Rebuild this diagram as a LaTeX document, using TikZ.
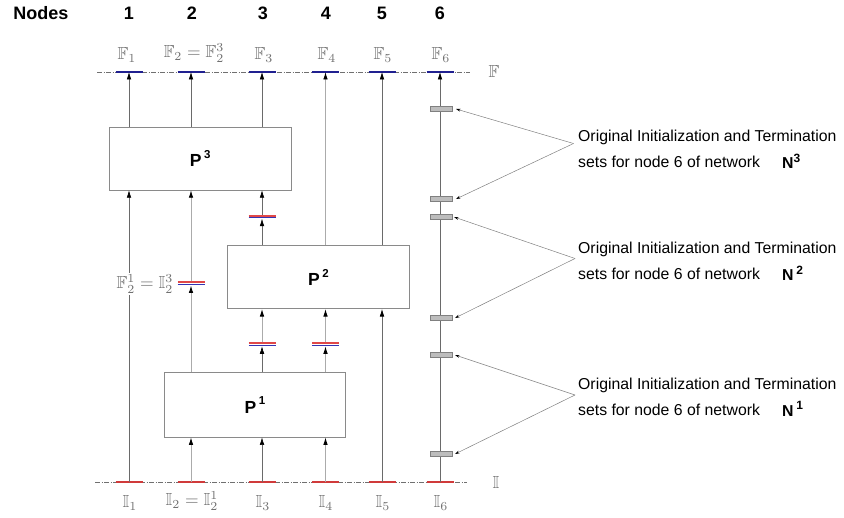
\documentclass[tikz,border=0pt]{standalone}
\usepackage{amssymb}
\usepackage{graphicx}
\usepackage{fontspec}
\setsansfont{Liberation Sans}
\usetikzlibrary{arrows.meta}
\definecolor{lgray}{HTML}{ABABAB}
\definecolor{dgray}{HTML}{6A6A6A}
\definecolor{labgray}{HTML}{707070}
\definecolor{fblue}{HTML}{202090}
\definecolor{ired}{HTML}{D03A3A}
\definecolor{mred}{HTML}{E04848}
\definecolor{mblue}{HTML}{3434B4}
\definecolor{boxgray}{HTML}{8A8A8A}
\definecolor{mkfill}{HTML}{BDBDBD}
\newcommand{\sups}[1]{\raisebox{0.75ex}{\fontsize{12}{12}\selectfont #1}}
\newcommand{\psup}[1]{\raisebox{8.3pt}{\fontsize{11.5}{12}\selectfont #1}}
\newcommand{\mth}[1]{\scalebox{1.75}{$#1$}}
\begin{document}
\begin{tikzpicture}[x=1pt,y=-1pt,
  tipb/.style={-{Latex[length=7.5pt,width=4.6pt,color=black]}},
  light/.style={tipb, draw=lgray, line width=0.9pt},
  dark/.style={tipb, draw=dgray, line width=0.6pt},
  proc/.style={draw=boxgray, line width=0.7pt, minimum width=181.5pt, minimum height=63pt, inner sep=0pt, font=\sffamily\bfseries\fontsize{17.5}{20}\selectfont},
  mlab/.style={text=labgray, inner sep=1pt},
  head/.style={font=\sffamily\bfseries\fontsize{18}{19}\selectfont, inner sep=0pt},
  note/.style={font=\sffamily\fontsize{15.8}{19}\selectfont, inner sep=0pt, anchor=west},
  base/.style={draw=labgray, line width=0.5pt, dash pattern=on 5pt off 1.5pt on 1pt off 1.5pt},
  fseg/.style={draw=fblue, line width=1.8pt},
  iseg/.style={draw=ired, line width=1.8pt},
  mk/.style={draw=gray, fill=mkfill, line width=0.5pt, minimum width=21.5pt, minimum height=4.8pt, inner sep=0pt},
  ann/.style={draw=gray, line width=0.5pt, -{Stealth[length=4.5pt,width=2.8pt,color=black]}}
]
\useasboundingbox (0,0) rectangle (844,518);

% headings
\node[head] (hn) at (41,13) {Nodes};
\node[head] (h1) at (129,13) {1};
\node[head] (h2) at (192,13) {2};
\node[head] (h3) at (263,13) {3};
\node[head] (h4) at (326,13) {4};
\node[head] (h5) at (382,13) {5};
\node[head] (h6) at (440,13) {6};

% base lines
\coordinate (Fl) at (97,72);
\coordinate (Fr) at (470,72);
\coordinate (Il) at (95,482);
\coordinate (Ir) at (467,482);
\draw[base] (Fl) -- (Fr);
\draw[base] (Il) -- (Ir);
\node[mlab] (Flab) at (494,71) {\mth{\mathbb{F}}};
\node[mlab] (Ilab) at (496,482) {\mth{\mathbb{I}}};

% column end coordinates
\foreach \n/\x in {1/129,2/191,3/262,4/325.5,5/382,6/440}{
  \coordinate (f\n) at (\x,72);
  \coordinate (i\n) at (\x,482);
  \draw[fseg] (\x-13.5,72) -- (\x+13.5,72);
  \draw[iseg] (\x-13.5,482) -- (\x+13.5,482);
}

% F and I labels
\node[mlab] (lf1) at (127,55) {\mth{\mathbb{F}_1}};
\node[mlab] (lf2) at (194,53) {\mth{\mathbb{F}_2=\mathbb{F}_2^3}};
\node[mlab] (lf3) at (264,55) {\mth{\mathbb{F}_3}};
\node[mlab] (lf4) at (327,55) {\mth{\mathbb{F}_4}};
\node[mlab] (lf5) at (383,55) {\mth{\mathbb{F}_5}};
\node[mlab] (lf6) at (441,55) {\mth{\mathbb{F}_6}};
\node[mlab] (li1) at (130,503) {\mth{\mathbb{I}_1}};
\node[mlab] (li2) at (192,501) {\mth{\mathbb{I}_2=\mathbb{I}_2^1}};
\node[mlab] (li3) at (263,503) {\mth{\mathbb{I}_3}};
\node[mlab] (li4) at (326,503) {\mth{\mathbb{I}_4}};
\node[mlab] (li5) at (383,503) {\mth{\mathbb{I}_5}};
\node[mlab] (li6) at (441,503) {\mth{\mathbb{I}_6}};

% process boxes
\node[proc] (P3) at (200.2,158.4) {P\hspace{2.5pt}\psup{3}\hspace{10pt}};
\node[proc] (P2) at (318.5,277.2) {P\hspace{2.5pt}\psup{2}\hspace{2pt}};
\node[proc, minimum height=64.3pt] (P1) at (254.9,404.9) {P\hspace{2.5pt}\psup{1}\hspace{2pt}};

% intermediate markers (red over blue)
\foreach \nm/\x/\y in {m2/191/283.5, m3a/262/216.7, m3b/262/344.3, m4/325.5/344.3}{
  \coordinate (\nm) at (\x,\y);
  \draw[draw=mred, line width=2pt] (\x-13.5,\y-1.1) -- (\x+13.5,\y-1.1);
  \draw[draw=mblue, line width=1.3pt] (\x-13.5,\y+1.1) -- (\x+13.5,\y+1.1);
}
\coordinate (m2b) at (191,285.5);  \coordinate (m2t) at (191,281.5);
\coordinate (m3ab) at (262,218.7); \coordinate (m3at) at (262,214.7);
\coordinate (m3bb) at (262,346.3); \coordinate (m3bt) at (262,342.3);
\coordinate (m4b) at (325.5,346.3); \coordinate (m4t) at (325.5,342.3);

% column 1
\draw[dark] (i1) -- (i1 |- P3.south);
\draw[dark] (f1 |- P3.north) -- (f1);
\node[mlab, fill=white, inner sep=2pt] (l21) at (145,284) {\mth{\mathbb{F}_2^1=\mathbb{I}_2^3}};

% column 2
\draw[light] (i2) -- (i2 |- P1.south);
\draw[light] (i2 |- P1.north) -- (m2b);
\draw[light] (m2t) -- (i2 |- P3.south);
\draw[dark] (f2 |- P3.north) -- (f2);

% column 3
\draw[dark] (i3) -- (i3 |- P1.south);
\draw[dark] (i3 |- P1.north) -- (m3bb);
\draw[light] (m3bt) -- (i3 |- P2.south);
\draw[dark] (i3 |- P2.north) -- (m3ab);
\draw[dark] (m3at) -- (i3 |- P3.south);
\draw[dark] (f3 |- P3.north) -- (f3);

% column 4
\draw[light] (i4) -- (i4 |- P1.south);
\draw[light] (i4 |- P1.north) -- (m4b);
\draw[light] (m4t) -- (i4 |- P2.south);
\draw[light] (f4 |- P2.north) -- (f4);

% column 5
\draw[dark] (i5) -- (i5 |- P2.south);
\draw[dark] (f5 |- P2.north) -- (f5);

% column 6
\draw[dark] (i6) -- (f6);
\node[mk] (k1) at (441,109) {};
\node[mk] (k2) at (441,199) {};
\node[mk] (k3) at (441,217) {};
\node[mk] (k4) at (441,318) {};
\node[mk] (k5) at (441,355) {};
\node[mk] (k6) at (441,454) {};

% annotations
\node[note] (t1a) at (578,137) {Original Initialization and Termination};
\node[note] (t1b) at (578,162) {sets for node 6 of network};
\node[note] (n1) at (782,161) {\bfseries N\sups{3}};
\node[note] (t2a) at (578,249) {Original Initialization and Termination};
\node[note] (t2b) at (578,274) {sets for node 6 of network};
\node[note] (n2) at (782,273) {\bfseries N\,\sups{2}};
\node[note] (t3a) at (578,385) {Original Initialization and Termination};
\node[note] (t3b) at (578,410) {sets for node 6 of network};
\node[note] (n3) at (782,409) {\bfseries N\,\sups{1}};

\coordinate (a1) at (573.5,143.5);
\coordinate (a2) at (575,258.5);
\coordinate (a3) at (575,395);
\draw[ann] (a1) -- ([xshift=4pt]k1.east);
\draw[ann] (a1) -- ([xshift=4pt]k2.east);
\draw[ann] (a2) -- ([xshift=2pt]k3.east);
\draw[ann] (a2) -- ([xshift=3pt]k4.east);
\draw[ann] (a3) -- ([xshift=3pt]k5.east);
\draw[ann] (a3) -- ([xshift=3pt]k6.east);
\end{tikzpicture}
\end{document}
